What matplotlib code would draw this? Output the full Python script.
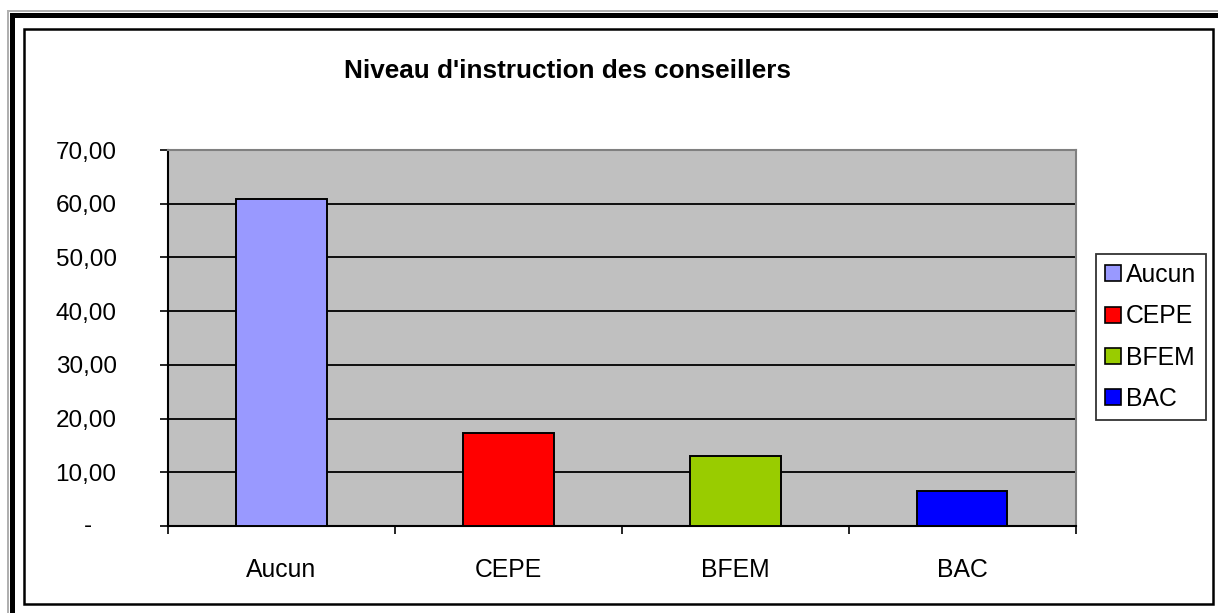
# Niveau d'instruction des conseillers - bar chart
import matplotlib.pyplot as plt
from matplotlib.patches import Rectangle, Patch

categories = ["Aucun", "CEPE", "BFEM", "BAC"]
values = [60.87, 17.39, 13.04, 6.52]
colors = ["#9999FF", "#FF0000", "#99CC00", "#0000FF"]
yticks = [0, 10, 20, 30, 40, 50, 60, 70]
ytick_labels = ["", "10,00", "20,00", "30,00", "40,00", "50,00", "60,00", "70,00"]

W, H = 1218, 613

plt.rcParams['font.family'] = ['Liberation Sans', 'DejaVu Sans']

fig = plt.figure(figsize=(W / 100, H / 100), dpi=100)


def fx(px):
    return px / W


def fy(py):
    return 1 - py / H


# outer frame (left + top), partly cut off
fig.add_artist(Rectangle((fx(7), 0), fx(2), fy(10), transform=fig.transFigure,
                         facecolor="#b0b0b0", edgecolor="none"))
fig.add_artist(Rectangle((fx(7), fy(12)), fx(W), 2 / H, transform=fig.transFigure,
                         facecolor="#b0b0b0", edgecolor="none"))
fig.add_artist(Rectangle((fx(10), 0), fx(5), fy(13), transform=fig.transFigure,
                         facecolor="black", edgecolor="none"))
fig.add_artist(Rectangle((fx(10), fy(18)), fx(W), 5 / H, transform=fig.transFigure,
                         facecolor="black", edgecolor="none"))
# inner frame
fig.add_artist(Rectangle((fx(24), fy(604)), fx(1213 - 24), (604 - 29) / H,
                         transform=fig.transFigure, facecolor="none",
                         edgecolor="black", linewidth=1.8))

ax = fig.add_axes([fx(168), fy(526), fx(1075.5 - 168), (526 - 150) / H])
ax.set_facecolor("#C0C0C0")

x = range(len(categories))
ax.bar(x, values, width=0.4, color=colors, edgecolor="black", linewidth=1.4, zorder=3)

ax.set_xlim(-0.5, len(categories) - 0.5)
ax.set_ylim(0, 70)

ax.set_yticks(yticks)
ax.set_yticklabels(ytick_labels)
ax.yaxis.grid(True, color="black", linewidth=1.3)
ax.set_axisbelow(True)
ax.tick_params(axis="y", length=6, width=1.2, pad=31, labelsize=17.5)
ax.annotate("-", xy=(0, 0), xycoords=("axes fraction", "data"),
            xytext=(-58, 0), textcoords="offset points",
            ha="center", va="center", fontsize=17.5)

ax.set_xticks(list(x))
ax.set_xticklabels(categories)
ax.set_xticks([i - 0.5 for i in range(len(categories) + 1)], minor=True)
ax.tick_params(axis="x", which="major", length=0, pad=23, labelsize=17.8)
ax.tick_params(axis="x", which="minor", length=6, width=1.2)

for s in ["top", "right"]:
    ax.spines[s].set_color("#808080")
    ax.spines[s].set_linewidth(1.5)
for s in ["left", "bottom"]:
    ax.spines[s].set_color("black")
    ax.spines[s].set_linewidth(1.5)

fig.text(fx(567.5), fy(71), "Niveau d'instruction des conseillers",
         ha="center", va="center", fontsize=18.8, fontweight="bold")

handles = [Patch(facecolor=c, edgecolor="black", linewidth=1.2) for c in colors]
leg = fig.legend(handles, categories, loc="center left",
                 bbox_to_anchor=(fx(1096), fy(337)), fontsize=17.8,
                 frameon=True, fancybox=False, shadow=False,
                 handlelength=0.62, handleheight=0.62, handletextpad=0.22,
                 labelspacing=0.7, borderpad=0.38, borderaxespad=0)
leg.get_frame().set_edgecolor("black")
leg.get_frame().set_linewidth(1.3)

plt.savefig("out.png", dpi=100)
